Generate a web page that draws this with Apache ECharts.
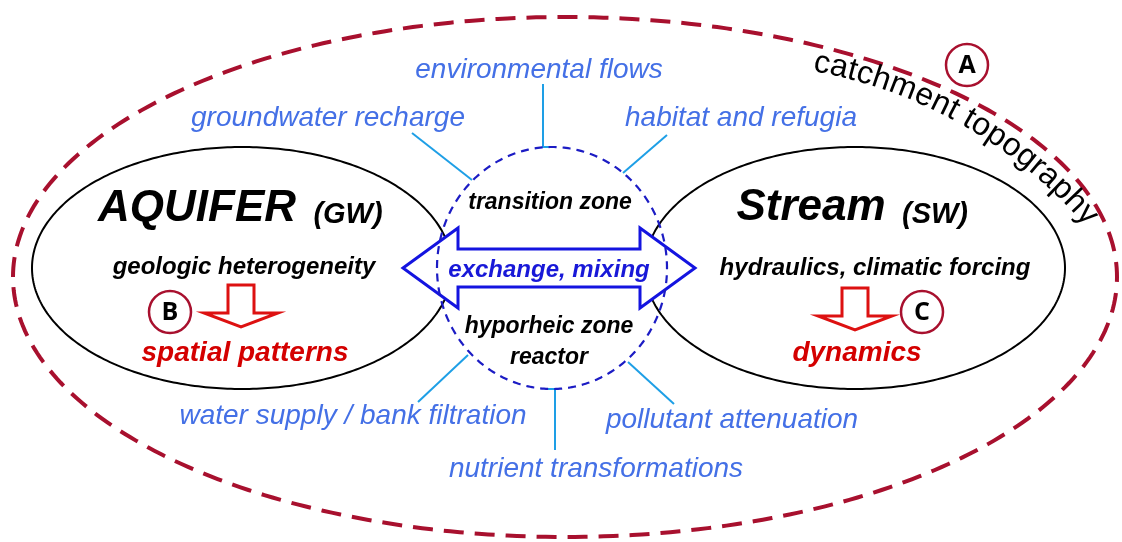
<!DOCTYPE html>
<html>
<head>
<meta charset="utf-8">
<script src="https://cdn.jsdelivr.net/npm/echarts@6/dist/echarts.min.js"></script>
<style>
  html, body { margin: 0; padding: 0; background: #fff; }
  #main { width: 1122px; height: 542px; }
</style>
</head>
<body>
<div id="main"></div>
<script>
// ellipses: [cx, cy, rx, ry] in picture units
const catchmentEllipse = [[565, 277, 552, 260]];
const compartmentEllipses = [[242, 268, 210, 121], [855, 268, 210, 121]];
const transitionEllipse = [[552, 268, 115, 121]];

// blue "services" around the hyporheic zone and their leader lines
const serviceLabels = ["environmental flows", "groundwater recharge", "habitat and refugia",
  "water supply / bank filtration", "nutrient transformations", "pollutant attenuation"];
const serviceLabelPos = [[539, 70], [328, 118], [741, 118], [353, 416], [596, 469], [732, 420]];
const leaderLines = [
  [[543, 84], [543, 147], [549, 147]],
  [[412, 133], [472, 180]],
  [[667, 135], [623, 173]],
  [[468, 355], [418, 402]],
  [[548, 389], [555, 389], [555, 450]],
  [[628, 362], [674, 404]]
];

// compartments
const compartmentTitles = ["AQUIFER", "Stream"];
const compartmentTitlePos = [[197, 209], [811, 208]];
const compartmentCodes = ["(GW)", "(SW)"];
const compartmentCodePos = [[348, 215], [935, 215]];
const drivers = ["geologic heterogeneity", "hydraulics, climatic forcing"];
const driverPos = [[244, 267], [875, 268]];
const outcomes = ["spatial patterns", "dynamics"];
const outcomePos = [[245, 353], [857, 353]];
const outcomeArrowTop = [[241, 285], [855, 288]];

// transition zone
const zoneLabels = ["transition zone", "hyporheic zone", "reactor"];
const zoneLabelPos = [[550, 203], [549, 327], [549, 358]];
const exchangeLabel = "exchange, mixing";
const exchangeArrow = [[403, 268], [695, 268]]; // left tip, right tip

// circled markers
const markers = ["A", "B", "C"];
const markerPos = [[967, 65], [170, 312], [922, 312]];

// curved catchment label: arc centre, radius, first/last glyph angle (deg)
const catchmentLabel = "catchment topography";
const catchmentArc = [731, 532, 477, -79.0, -41.7];

const FONT = "'Liberation Sans', Arial, sans-serif";
const chart = echarts.init(document.getElementById('main'));

function ellipsePoints(api, e) {
  const pts = [];
  for (let k = 0; k < 360; k++) {
    const t = Math.PI + (k / 360) * Math.PI * 2;
    pts.push(api.coord([e[0] + e[2] * Math.cos(t), e[1] + e[3] * Math.sin(t)]));
  }
  return pts;
}

function ellipseSeries(list, z, style) {
  return {
    type: 'custom', coordinateSystem: 'cartesian2d', z: z, silent: true,
    data: list.map(e => [e[0], e[1]]),
    renderItem: (params, api) => ({
      type: 'polygon',
      shape: { points: ellipsePoints(api, list[params.dataIndex]) },
      style: style
    })
  };
}

// all straight texts
const textItems = [];
serviceLabels.forEach((t, i) => textItems.push({ text: t, pos: serviceLabelPos[i], font: 'italic 28px ' + FONT, color: '#4470e6' }));
compartmentTitles.forEach((t, i) => textItems.push({ text: t, pos: compartmentTitlePos[i], font: 'italic bold 44px ' + FONT, color: '#000' }));
compartmentCodes.forEach((t, i) => textItems.push({ text: t, pos: compartmentCodePos[i], font: 'italic bold 29px ' + FONT, color: '#000' }));
drivers.forEach((t, i) => textItems.push({ text: t, pos: driverPos[i], font: 'italic bold 24px ' + FONT, color: '#000' }));
outcomes.forEach((t, i) => textItems.push({ text: t, pos: outcomePos[i], font: 'italic bold 28px ' + FONT, color: '#d40000' }));
zoneLabels.forEach((t, i) => textItems.push({ text: t, pos: zoneLabelPos[i], font: 'italic bold 23px ' + FONT, color: '#000' }));
textItems.push({ text: exchangeLabel, pos: [549, 270], font: 'italic bold 24px ' + FONT, color: '#1818d8' });

// glyph widths for the curved label
const measureCtx = document.createElement('canvas').getContext('2d');
const catchmentFont = '32px ' + FONT;
measureCtx.font = catchmentFont;
const glyphs = catchmentLabel.split('');
const glyphW = glyphs.map(c => measureCtx.measureText(c).width);
const glyphMid = [];
let acc = 0;
glyphW.forEach(w => { glyphMid.push(acc + w / 2); acc += w; });

const option = {
  animation: false,
  grid: { left: 0, right: 0, top: 0, bottom: 0 },
  xAxis: { type: 'value', min: 0, max: 1122, show: false },
  yAxis: { type: 'value', min: 0, max: 542, inverse: true, show: false },
  series: [
    ellipseSeries(catchmentEllipse, 1, { fill: 'none', stroke: '#a8102e', lineWidth: 4, lineDash: [20, 11] }),
    ellipseSeries(compartmentEllipses, 2, { fill: 'none', stroke: '#000', lineWidth: 2 }),
    {
      type: 'custom', coordinateSystem: 'cartesian2d', z: 3, silent: true,
      data: leaderLines.map(l => l[0]),
      renderItem: (params, api) => ({
        type: 'polyline',
        shape: { points: leaderLines[params.dataIndex].map(p => api.coord(p)) },
        style: { fill: 'none', stroke: '#1e9fe6', lineWidth: 2 }
      })
    },
    {
      type: 'custom', coordinateSystem: 'cartesian2d', z: 4, silent: true,
      data: [exchangeArrow[0]],
      renderItem: (params, api) => {
        const l = exchangeArrow[0], r = exchangeArrow[1], y = l[1];
        const head = 55, hh = 40, sh = 19;
        const pts = [
          [l[0], y], [l[0] + head, y - hh], [l[0] + head, y - sh], [r[0] - head, y - sh],
          [r[0] - head, y - hh], [r[0], y], [r[0] - head, y + hh], [r[0] - head, y + sh],
          [l[0] + head, y + sh], [l[0] + head, y + hh]
        ].map(p => api.coord(p));
        return { type: 'polygon', shape: { points: pts }, style: { fill: '#fff', stroke: '#1414e0', lineWidth: 3, lineJoin: 'miter' } };
      }
    },
    ellipseSeries(transitionEllipse, 5, { fill: 'none', stroke: '#1c1cc4', lineWidth: 2.2, lineDash: [8, 6] }),
    {
      type: 'custom', coordinateSystem: 'cartesian2d', z: 6, silent: true,
      data: outcomeArrowTop,
      renderItem: (params, api) => {
        const t = outcomeArrowTop[params.dataIndex], x = t[0], y = t[1];
        const pts = [[x - 13, y], [x + 13, y], [x + 13, y + 28], [x + 37, y + 28], [x, y + 42],
          [x - 37, y + 28], [x - 13, y + 28]].map(p => api.coord(p));
        return { type: 'polygon', shape: { points: pts }, style: { fill: '#fff', stroke: '#dd1111', lineWidth: 3 } };
      }
    },
    {
      type: 'custom', coordinateSystem: 'cartesian2d', z: 7, silent: true,
      data: markerPos,
      renderItem: (params, api) => {
        const p = api.coord(markerPos[params.dataIndex]);
        return {
          type: 'group',
          children: [
            { type: 'circle', shape: { cx: p[0], cy: p[1], r: 21 }, style: { fill: 'none', stroke: '#a8102e', lineWidth: 2.5 } },
            { type: 'text', x: p[0], y: p[1] + 1, style: { text: markers[params.dataIndex], font: "bold 25px 'Open Sans', sans-serif", fill: '#000', align: 'center', verticalAlign: 'middle' } }
          ]
        };
      }
    },
    {
      type: 'custom', coordinateSystem: 'cartesian2d', z: 8, silent: true,
      data: textItems.map(t => t.pos),
      renderItem: (params, api) => {
        const t = textItems[params.dataIndex];
        const p = api.coord(t.pos);
        return { type: 'text', x: p[0], y: p[1], style: { text: t.text, font: t.font, fill: t.color, align: 'center', verticalAlign: 'middle' } };
      }
    },
    {
      type: 'custom', coordinateSystem: 'cartesian2d', z: 8, silent: true,
      data: [[catchmentArc[0], catchmentArc[1]]],
      renderItem: (params, api) => {
        const [cx, cy, R, a0, a1] = catchmentArc;
        const s0 = glyphMid[0], s1 = glyphMid[glyphMid.length - 1];
        const children = glyphs.map((g, i) => {
          const a = (a0 + (a1 - a0) * (glyphMid[i] - s0) / (s1 - s0)) * Math.PI / 180;
          const p = api.coord([cx + R * Math.cos(a), cy + R * Math.sin(a)]);
          return {
            type: 'text', x: p[0], y: p[1], rotation: -(a + Math.PI / 2),
            style: { text: g, font: catchmentFont, fill: '#000', align: 'center', verticalAlign: 'middle' }
          };
        });
        return { type: 'group', children: children };
      }
    }
  ]
};

chart.setOption(option);
</script>
</body>
</html>
